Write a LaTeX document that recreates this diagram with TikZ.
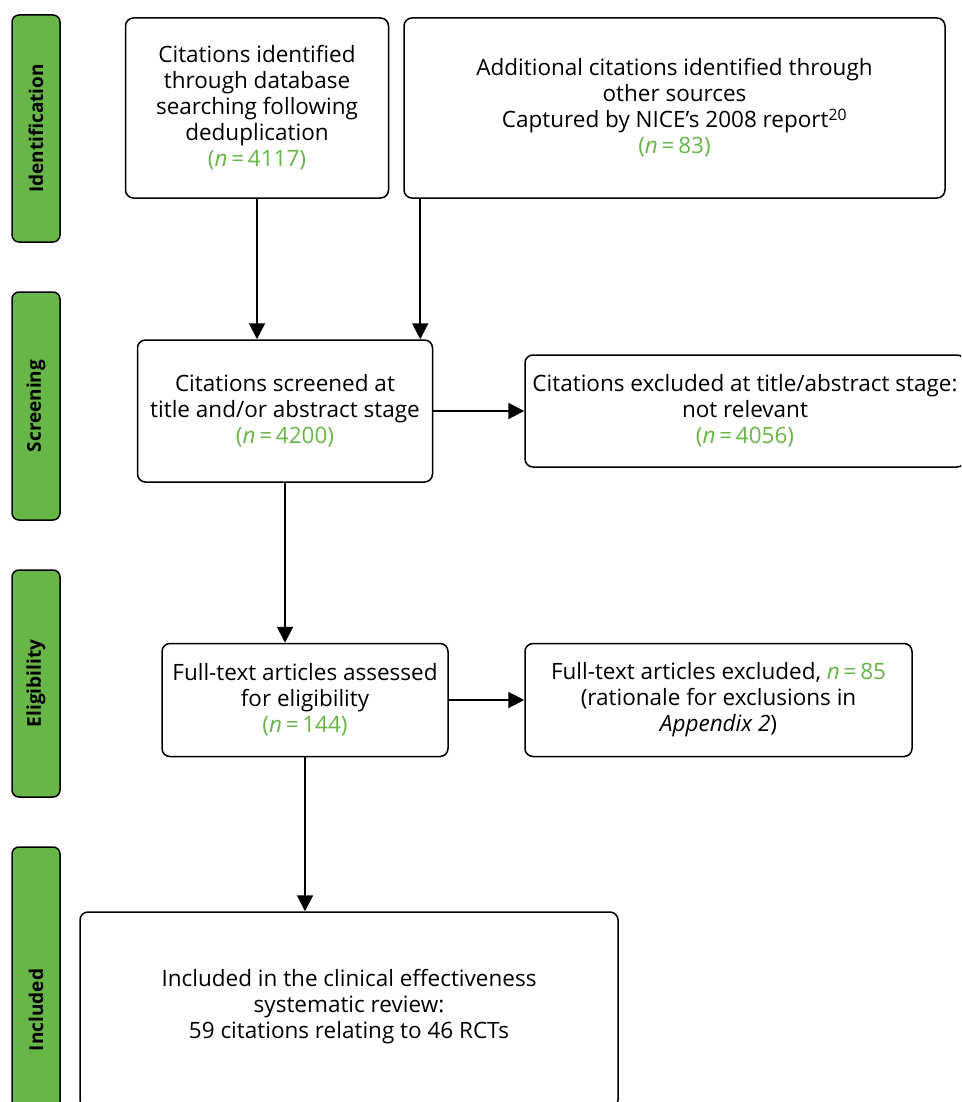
\documentclass[tikz,border=0pt]{standalone}
\usepackage{fontspec}
\setmainfont{Open Sans}
\usetikzlibrary{arrows.meta,calc}
\definecolor{ngreen}{RGB}{104,181,72}
\newcommand{\nn}[1]{\textcolor{ngreen}{(\textit{n}\,=\,#1)}}
\begin{document}
\begin{tikzpicture}[x=1pt,y=-1pt,
  box/.style={draw=black,line width=1.5pt,rounded corners=8pt,align=center,inner sep=0pt,
    font=\fontsize{22.5}{26}\selectfont,fill=white},
  phase/.style={draw=black,line width=1.5pt,rounded corners=7pt,fill=ngreen,minimum height=48pt,
    inner sep=0pt,font=\fontsize{19}{22}\selectfont\bfseries,rotate=90},
  arr/.style={line width=2pt,-{Triangle[length=16pt,width=16pt]}}]
\useasboundingbox (0,0) rectangle (961,1102);
\clip (0,0) rectangle (961,1102);
% phase bars
\node[phase,minimum width=227pt] (p1) at (36,128.5) {Identification};
\node[phase,minimum width=228pt] (p2) at (36,406) {Screening};
\node[phase,minimum width=227pt] (p3) at (36,683.5) {Eligibility};
\node[phase,minimum width=326pt] (p4) at (36,1010) {Included};
% boxes
\node[box,minimum width=263pt,minimum height=180pt] (A) at (257,108)
  {Citations identified\\through database\\searching following\\deduplication\\\nn{4117}};
\node[box,minimum width=541pt,minimum height=180pt] (B) at (674.5,108)
  {Additional citations identified through\\other sources\\Captured by NICE’s 2008 report\textsuperscript{20}\\\nn{83}};
\node[box,minimum width=295pt,minimum height=142pt] (C) at (285,411)
  {Citations screened at\\title and/or abstract stage\\\nn{4200}};
\node[box,minimum width=440pt,minimum height=112pt] (D) at (745,411)
  {Citations excluded at title/abstract stage:\\not relevant\\\nn{4056}};
\node[box,minimum width=286pt,minimum height=113pt] (E) at (305,700)
  {Full-text articles assessed\\for eligibility\\\nn{144}};
\node[box,minimum width=387pt,minimum height=113pt] (F) at (718.5,700)
  {Full-text articles excluded, \textcolor{ngreen}{\textit{n}\,=\,85}\\(rationale for exclusions in\\\textit{Appendix 2})};
\node[box,minimum width=538pt,minimum height=196pt,
  label={[yshift=3pt,align=center,font=\fontsize{22.5}{26}\selectfont]center:Included in the clinical effectiveness\\systematic review:\\59 citations relating to 46 RCTs}] (G) at (349,1010) {};
% arrows
\coordinate (b1) at ($(B.south west)+(17,0)$);
\draw[arr] (A.south) -- (A.south |- C.north);
\draw[arr] (b1) -- (b1 |- C.north);
\draw[arr] (C.east) -- (D.west);
\draw[arr] (C.south) -- (C.south |- E.north);
\draw[arr] (E.east) -- (F.west);
\draw[arr] (E.south) -- (E.south |- G.north);
\end{tikzpicture}
\end{document}
